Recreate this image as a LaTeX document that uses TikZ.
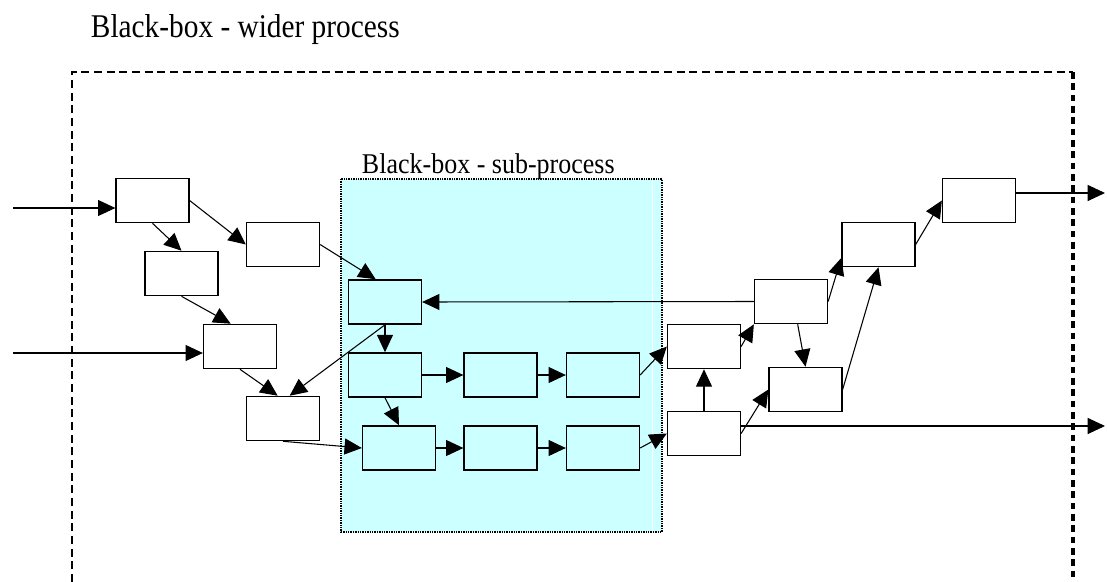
\documentclass[tikz,border=0pt]{standalone}
\usepackage{fontspec}
\usepackage{graphicx}
\setmainfont{Liberation Serif}
\usetikzlibrary{arrows.meta}
\usetikzlibrary{positioning}
\definecolor{subcyan}{RGB}{204,255,255}

\begin{document}
\begin{tikzpicture}[x=0.75pt,y=-0.75pt,->,>={Triangle[length=13pt,width=12pt]},thick,
  box node/.style={rectangle,draw,line width=1.2pt,fill=white,minimum width=54.5pt,minimum height=33pt,inner sep=0pt},
  sub node/.style={box node,fill=subcyan}]
  \useasboundingbox (0,0) rectangle (1107,582);
  % wider process
  \draw[-,line width=1.2pt,dash pattern=on 6pt off 3.5pt] (72,582) -- (72,72) -- (1073,72);
  \draw[-,line width=2.3pt,dash pattern=on 5pt off 3.5pt] (1073,72) -- (1073,582);
  \node[anchor=base west,font=\fontsize{22}{26}\selectfont] (title) at (86,37) {\scalebox{1}[1.13]{Black-box - wider process}};
  % sub-process
  \draw[-,line width=0.8pt,dash pattern=on 1pt off 0.8pt,fill=subcyan] (341,179) rectangle (662,532);
  \draw[-,white,thin] (652,180) -- (652,531);
  \node[anchor=base west,font=\fontsize{19.5}{23}\selectfont] (subtitle) at (357,173) {\scalebox{1}[1.1]{Black-box - sub-process}};

  \node[box node] (a1) at (152.5,200.5) {};
  \node[box node] (a2) at (283,244.5) {};
  \node[box node] (a3) at (181.5,273.5) {};
  \node[box node] (a4) at (240,346.5) {};
  \node[box node] (a5) at (283,418.5) {};

  \node[sub node] (b1) at (385,302) {};
  \node[sub node] (b2) at (385,375) {};
  \node[sub node] (b3) at (500.5,375) {};
  \node[sub node] (b4) at (603,375) {};
  \node[sub node] (b5) at (399,448) {};
  \node[sub node] (b6) at (500.5,448) {};
  \node[sub node] (b7) at (603,448) {};

  \node[box node] (c1) at (704,346.5) {};
  \node[box node] (c2) at (704,433.5) {};
  \node[box node] (c3) at (791,301.5) {};
  \node[box node] (c4) at (805.5,389.5) {};
  \node[box node] (c5) at (878.5,244.5) {};
  \node[box node] (c6) at (979,200.5) {};

  \coordinate (in1) at (13,208);
  \coordinate (in2) at (13,353);
  \coordinate (out1) at (1105,193);
  \coordinate (out2) at (1105,426);

  \path
    (in1) edge (in1 -| a1.west)
    (in2) edge (in2 -| a4.west)
    (a1.east) edge (a2.west)
    (a1.south) edge (a3.north)
    (a3.south) edge ([xshift=-7pt]a4.north)
    (a4.south) edge ([xshift=-4pt]a5.north)
    (a5.south) edge (b5.west)
    (a2.east) edge ([xshift=-7pt]b1.north)
    (b1.south) edge ([xshift=5pt]a5.north)
               edge (b2.north)
    (b2.east) edge (b3.west)
    (b3.east) edge (b4.west)
    (b2.south) edge (b5.north)
    (b5.east) edge (b6.west)
    (b6.east) edge (b7.west)
    (b4.east) edge (c1.west)
    (b7.east) edge (c2.west)
    (c3.west) edge (b1.east)
    (c1.east) edge (c3.south west)
    (c2.north) edge (c1.south)
    (c2.east) edge (c4.west)
    (out2 -| c2.east) edge (out2)
    ([xshift=5pt]c3.south) edge (c4.north)
    (c3.east) edge ([yshift=-10pt]c5.west)
    (c4.east) edge (c5.south)
    (c5.east) edge (c6.west)
    (out1 -| c6.east) edge (out1);
\end{tikzpicture}
\end{document}
